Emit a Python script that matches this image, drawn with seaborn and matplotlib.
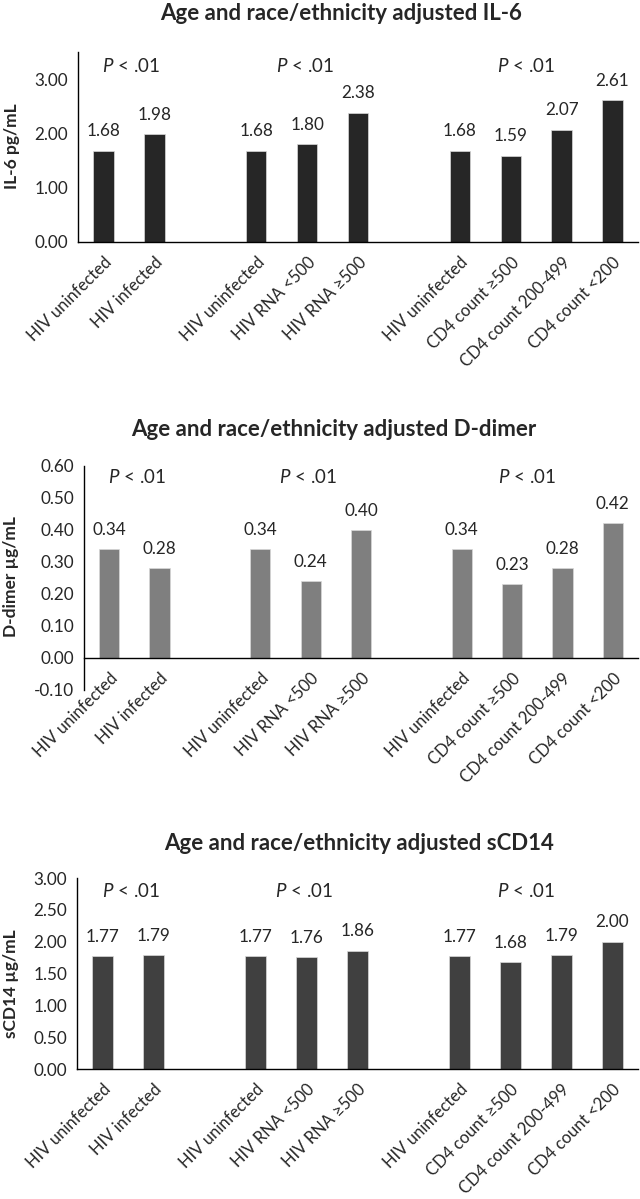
import numpy as np
import pandas as pd
import matplotlib
matplotlib.use("Agg")
import matplotlib.pyplot as plt
import seaborn as sns
from matplotlib.ticker import FuncFormatter, FixedLocator

sns.set_style("white")
plt.rcParams['font.family'] = ['Lato', 'DejaVu Sans']
plt.rcParams['mathtext.fontset'] = 'custom'
plt.rcParams['mathtext.it'] = 'Lato:italic'
plt.rcParams['mathtext.rm'] = 'Lato'

# ---- data ----
categories = ["HIV uninfected", "HIV infected", "",
              "HIV uninfected", "HIV RNA <500", "HIV RNA \u2265500", "",
              "HIV uninfected", "CD4 count \u2265500", "CD4 count 200-499", "CD4 count <200"]
il6 = [1.68, 1.98, np.nan, 1.68, 1.80, 2.38, np.nan, 1.68, 1.59, 2.07, 2.61]
ddimer = [0.34, 0.28, np.nan, 0.34, 0.24, 0.40, np.nan, 0.34, 0.23, 0.28, 0.42]
scd14 = [1.77, 1.79, np.nan, 1.77, 1.76, 1.86, np.nan, 1.77, 1.68, 1.79, 2.00]
titles = ["Age and race/ethnicity adjusted IL-6",
          "Age and race/ethnicity adjusted D-dimer",
          "Age and race/ethnicity adjusted sCD14"]
ylabels = ["IL-6 pg/mL", "D-dimer \u00b5g/mL", "sCD14 \u00b5g/mL"]
p_text = "< .01"

W, H = 640, 1199
def rect(left, right, top, bottom):
    return [left / W, 1 - bottom / H, (right - left) / W, (bottom - top) / H]

panels = [
    dict(vals=il6, color="#262626", ylim=(0, 3.5), yticks=[0, 1, 2, 3], p_y=3.24,
         rect=rect(78, 638, 52, 241.7), title_xy=(341, 13), ylab_xy=(11.5, 146)),
    dict(vals=ddimer, color="#7f7f7f", ylim=(-0.1, 0.6),
         yticks=[-0.1, 0, 0.1, 0.2, 0.3, 0.4, 0.5, 0.6], p_y=0.565,
         rect=rect(84, 638, 466, 689.5), title_xy=(334, 429), ylab_xy=(11.5, 577)),
    dict(vals=scd14, color="#404040", ylim=(0, 3.0),
         yticks=[0, 0.5, 1, 1.5, 2, 2.5, 3], p_y=2.8,
         rect=rect(77, 638, 878, 1069), title_xy=(359, 843), ylab_xy=(11.5, 984)),
]
p_x = [0.55, 3.95, 8.3]

fig = plt.figure(figsize=(6.4, 11.99), dpi=100)
num_fs = 12.3
lab_fs = 12.0

for i, pnl in enumerate(panels):
    ax = fig.add_axes(pnl["rect"])
    df = pd.DataFrame({"slot": np.arange(len(categories)), "value": pnl["vals"]})
    sns.barplot(data=df, x="slot", y="value", order=list(range(len(categories))),
                color=pnl["color"], width=0.4, saturation=1, ax=ax,
                edgecolor="#d9d9d9", linewidth=0.5, errorbar=None)
    for s in ["top", "right"]:
        ax.spines[s].set_visible(False)
    for s in ["left", "bottom"]:
        ax.spines[s].set_color("black")
        ax.spines[s].set_linewidth(1)
    ax.spines["bottom"].set_position(("data", 0))
    ax.set_xlim(-0.5, len(categories) - 0.5)
    ax.set_ylim(*pnl["ylim"])
    ax.set_yticks(pnl["yticks"])
    ax.yaxis.set_major_formatter(FuncFormatter(lambda v, _: f"{v:.2f}"))
    ax.set_xticks(range(len(categories)))
    ax.set_xticklabels(categories, rotation=45, ha="right", va="top",
                       rotation_mode="anchor", fontsize=lab_fs)
    ax.xaxis.set_minor_locator(FixedLocator(np.arange(-0.5, len(categories), 1.0)))
    ax.tick_params(axis="x", which="major", length=0, pad=9)
    ax.tick_params(axis="x", which="minor", length=7, width=1, color="black", direction="out")
    ax.tick_params(axis="y", which="major", length=4, width=1, color="black", direction="out",
                   labelsize=num_fs, pad=3)
    ax.set_xlabel("")
    ax.set_ylabel("")
    for xi, v in enumerate(pnl["vals"]):
        if not np.isnan(v):
            ax.annotate(f"{v:.2f}", (xi, v), xytext=(0, 13.9), textcoords="offset points",
                        ha="center", va="center", fontsize=num_fs)
    for px in p_x:
        ax.text(px, pnl["p_y"], "$\\mathit{P}$ " + p_text, ha="center", va="center",
                fontsize=13.5)
    fig.text(pnl["title_xy"][0]/W, 1 - pnl["title_xy"][1]/H, titles[i],
             ha="center", va="center", fontsize=16, fontweight="bold")
    fig.text(pnl["ylab_xy"][0]/W, 1 - pnl["ylab_xy"][1]/H, ylabels[i],
             ha="center", va="center", rotation=90, fontsize=12.5, fontweight="bold")

fig.savefig("out.png", dpi=100)
